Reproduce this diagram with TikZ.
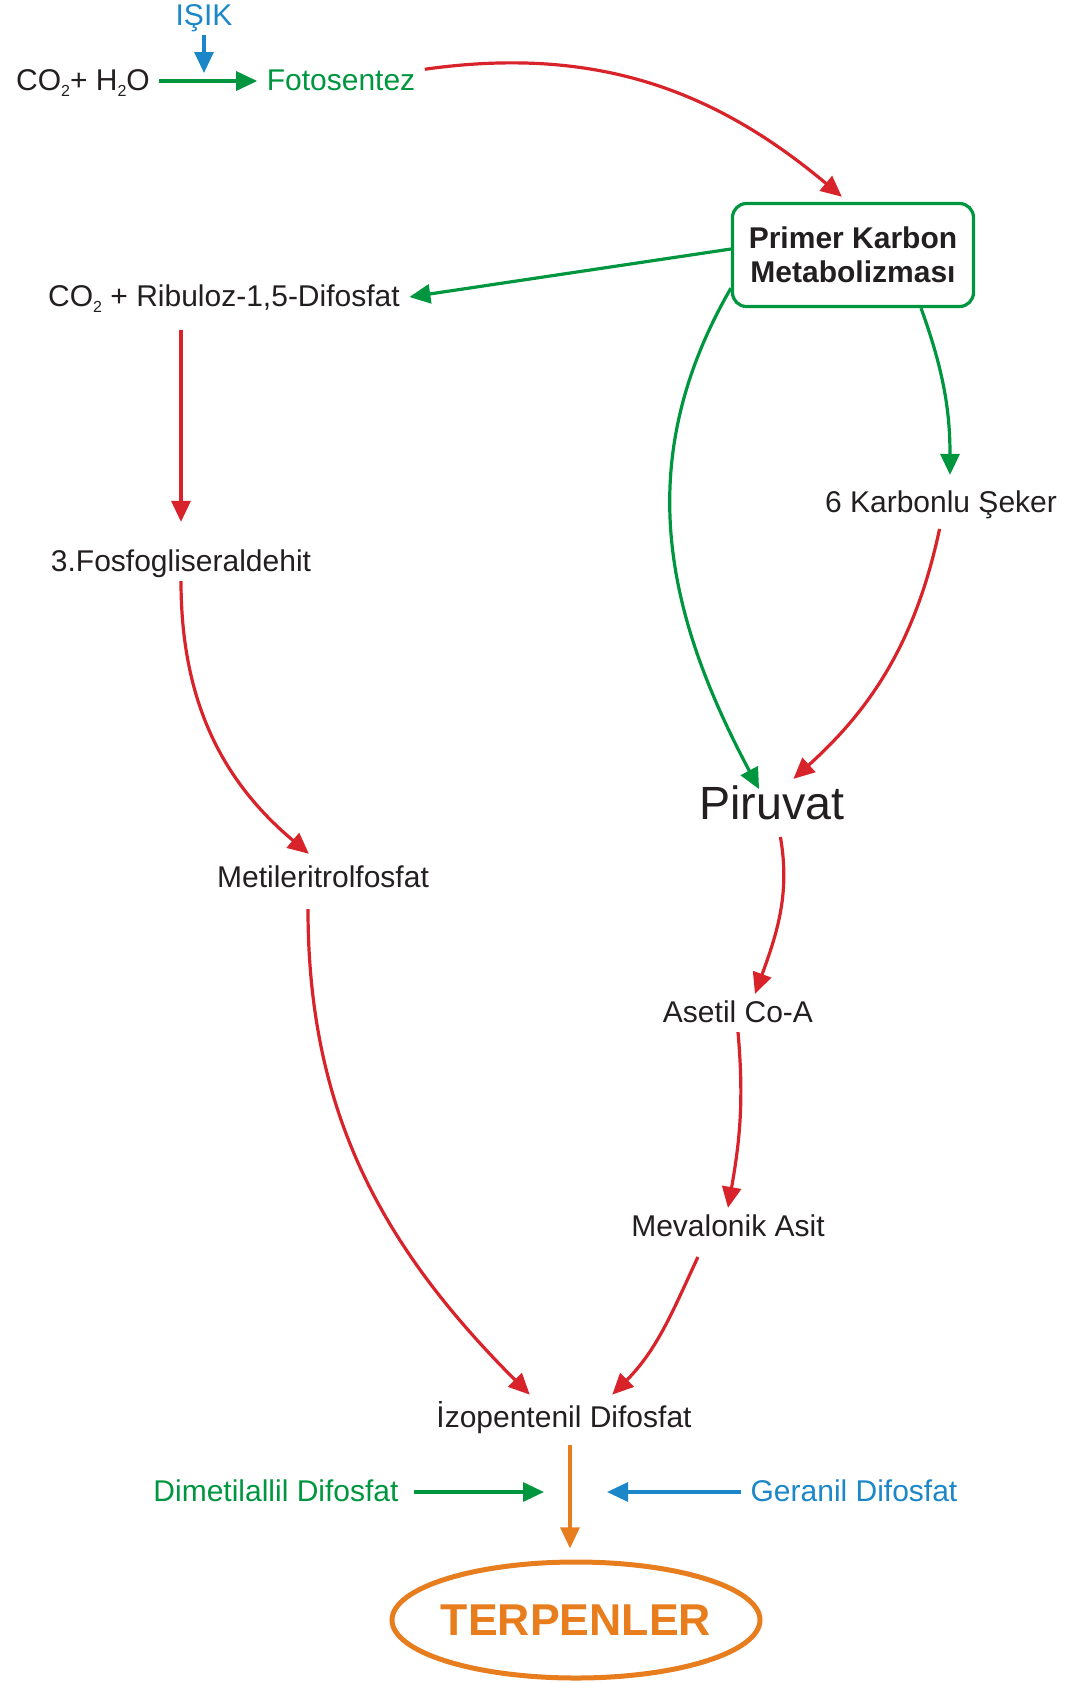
\documentclass[tikz,border=0pt]{standalone}
\usepackage{fontspec}
\setmainfont{Liberation Sans}
\usetikzlibrary{arrows.meta}

\definecolor{pathred}{HTML}{D9232A}
\definecolor{pathgreen}{HTML}{00963F}
\definecolor{pathblue}{HTML}{1B87C9}
\definecolor{pathorange}{HTML}{E87D1E}
\definecolor{textblack}{HTML}{231F20}
\newcommand{\chemsub}[1]{\raisebox{-0.22em}{\fontsize{8pt}{8pt}\selectfont #1}}

\begin{document}
\begin{tikzpicture}[x=0.5pt,y=0.5pt,>={Triangle[length=10.5pt,width=9.5pt]},line width=1.6pt,
    base node/.style={inner sep=4pt,text height=0.933em,text depth=0.017em,text=textblack,font=\fontsize{15pt}{17pt}\selectfont},
    big node/.style={base node,font=\fontsize{23.3pt}{26pt}\selectfont},
    box node/.style={draw=pathgreen,rounded corners=7pt,align=center,minimum width=120.5pt,minimum height=51.5pt,text=textblack,font=\fontsize{15pt}{17pt}\selectfont\bfseries},
    end node/.style={minimum width=184pt,minimum height=58pt,text=pathorange,font=\fontsize{22.3pt}{24pt}\selectfont\bfseries},
    red edge/.style={->,pathred}, green edge/.style={->,pathgreen},
    blue edge/.style={->,pathblue}, orange edge/.style={->,pathorange}]

  \useasboundingbox (0,0) rectangle (1076,-1683);

  \node[base node,text=pathblue]  (isik)  at (204,-16)   {IŞIK};
  \coordinate                     (isikend) at (204,-73);
  \node[base node]                (co2)   at (83,-81)    {CO\chemsub{2}+ H\chemsub{2}O};
  \node[base node,text=pathgreen] (fot)   at (341,-81)   {Fotosentez};
  \node[box node]                 (pkm)   at (853,-255)  {Primer Karbon\\Metabolizması};
  \node[base node]                (rib)   at (224,-297)  {CO\chemsub{2} + Ribuloz-1,5-Difosfat};
  \node[base node]                (fos)   at (181,-562)  {3.Fosfogliseraldehit};
  \node[base node]                (met)   at (323,-878)  {Metileritrolfosfat};
  \node[base node]                (seker) at (941,-503)  {6 Karbonlu Şeker};
  \node[big node]                 (piru)  at (772,-810)  {Piruvat};
  \node[base node]                (ace)   at (738,-1013) {Asetil Co-A};
  \node[base node]                (mev)   at (728,-1227) {Mevalonik Asit};
  \node[base node]                (izo)   at (564,-1418) {İzopentenil Difosfat};
  \node[base node,text=pathgreen] (dim)   at (276,-1492) {Dimetilallil Difosfat};
  \coordinate                     (dimend) at (544,-1492);
  \node[base node,text=pathblue]  (ger)   at (854,-1492) {Geranil Difosfat};
  \coordinate                     (gerend) at (607,-1492);
  \node[end node]                 (ter)   at (576,-1620) {\raisebox{-2pt}{TERPENLER}};
  \draw[pathorange,line width=2.5pt] (ter.center) ellipse [x radius=92pt,y radius=29pt];

  \path[green edge] (co2) edge (fot)
        ([yshift=3pt]pkm.west) edge (rib.east)
        ([yshift=10pt]pkm.south west) edge[out=240,in=118,looseness=1.02,shorten >=1pt] ([xshift=-6pt]piru.north)
        ([xshift=34pt]pkm.south) edge[out=-70,in=90,shorten >=4.5pt] ([xshift=4.5pt]seker.north)
        (dim) edge[shorten <=3pt] (dimend);
  \path[blue edge] (isik) edge (isikend)
        (ger) edge (gerend);
  \path[red edge] (fot) edge[out=8,in=140,shorten >=4pt] ([xshift=-2.5pt]pkm.north)
        (fos.north |- rib.south) edge[shorten <=7pt,shorten >=10.5pt] (fos.north)
        (fos.south) edge[out=-90,in=140,shorten >=4pt] ([xshift=-4pt]met.north)
        ([xshift=-7.5pt]met.south) edge[out=-90,in=135,shorten <=6pt,shorten >=3pt] ([xshift=-15pt]izo.north)
        (seker.south) edge[out=258,in=42,shorten <=3.5pt,shorten >=9pt] ([xshift=4pt]piru.north)
        ([xshift=3.5pt]piru.south) edge[out=-80,in=70,shorten <=4pt] ([xshift=8.5pt]ace.north)
        (ace.south) edge[out=-85,in=80] (mev.north)
        ([xshift=-12.5pt]mev.south) edge[out=245,in=45,shorten <=6pt,shorten >=3pt] ([xshift=22pt]izo.north);
  \path[orange edge] ([xshift=3pt]izo.south) edge[shorten <=4pt,shorten >=6pt] ([xshift=-3pt]ter.north);

\end{tikzpicture}
\end{document}
